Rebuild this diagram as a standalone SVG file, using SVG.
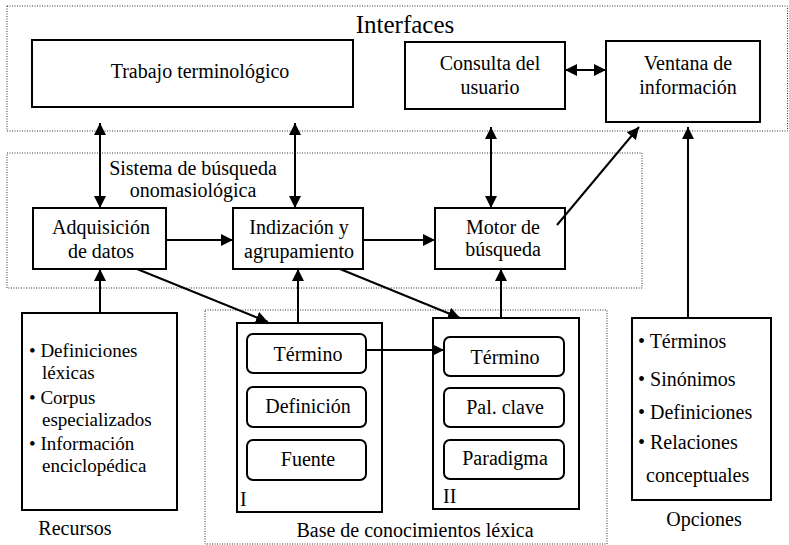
<svg xmlns="http://www.w3.org/2000/svg" width="789" height="545" viewBox="0 0 789 545">
<defs>
<style>
.frame{fill:none;stroke:#333;stroke-width:1;stroke-dasharray:1 1.5}
.box{fill:#fff;stroke:#000;stroke-width:2}
.rbox{fill:#fff;stroke:#000;stroke-width:2}
.t{font-family:"Liberation Serif","Times New Roman",serif;font-size:20px;fill:#000}
.s{font-size:19px}
.c{text-anchor:middle}
.title{font-size:25px}
.conn line{stroke:#000;stroke-width:2;fill:none}
.a{marker-end:url(#ah)}
.aa{marker-start:url(#ah);marker-end:url(#ah)}
</style>
<marker id="ah" markerUnits="userSpaceOnUse" markerWidth="12" markerHeight="12" refX="12" refY="6" orient="auto-start-reverse" viewBox="0 0 12 12">
<path d="M0,0 L12,6 L0,12 z" fill="#000"/>
</marker>
</defs>
<rect width="789" height="545" fill="#fff"/>

<g id="frame-interfaces">
<rect class="frame" x="7" y="6" width="780.5" height="125"/>
<text class="t c title" x="405" y="33">Interfaces</text>
</g>
<g id="frame-sistema">
<rect class="frame" x="7" y="153" width="635" height="135"/>
<text class="t c" x="193" y="175">Sistema de búsqueda<tspan x="193" y="197">onomasiológica</tspan></text>
</g>
<g id="frame-base">
<rect class="frame" x="205" y="310" width="402" height="234"/>
<text class="t c" x="415" y="537">Base de conocimientos léxica</text>
</g>

<g id="trabajo">
<rect class="box" x="32" y="40" width="321" height="67"/>
<text class="t c" x="200" y="78">Trabajo terminológico</text>
</g>
<g id="consulta">
<rect class="box" x="405" y="42" width="160" height="67"/>
<text class="t c" x="490" y="70">Consulta del<tspan x="490" y="94">usuario</tspan></text>
</g>
<g id="ventana">
<rect class="box" x="606" y="41" width="154" height="81"/>
<text class="t c" x="688" y="70">Ventana de<tspan x="688" y="94">información</tspan></text>
</g>
<g id="adquisicion">
<rect class="box" x="33" y="208" width="133" height="61"/>
<text class="t c" x="101" y="234">Adquisición<tspan x="101" y="258">de datos</tspan></text>
</g>
<g id="indizacion">
<rect class="box" x="233" y="208" width="130" height="61"/>
<text class="t c" x="299" y="234">Indización y<tspan x="299" y="258">agrupamiento</tspan></text>
</g>
<g id="motor">
<rect class="box" x="435" y="208" width="130" height="61"/>
<text class="t c" x="503" y="234">Motor de<tspan x="503" y="256">búsqueda</tspan></text>
</g>
<g id="recursos">
<rect class="box" x="22" y="313" width="155" height="197"/>
<text class="t s" x="29" y="357">• Definiciones<tspan x="42" y="379">léxicas</tspan></text>
<text class="t s" x="29" y="404">• Corpus<tspan x="42" y="426">especializados</tspan></text>
<text class="t s" x="29" y="450">• Información<tspan x="42" y="472">enciclopédica</tspan></text>
<text class="t c" x="75" y="535">Recursos</text>
</g>
<g id="base-i">
<rect class="box" x="237" y="323" width="145" height="189"/>
<text class="t" x="240" y="506">I</text>
</g>
<g id="termino-i">
<rect class="rbox" x="247" y="334" width="119" height="39" rx="6"/>
<text class="t c" x="308" y="361">Término</text>
</g>
<g id="definicion-i">
<rect class="rbox" x="247" y="387" width="119" height="40" rx="6"/>
<text class="t c" x="308" y="413">Definición</text>
</g>
<g id="fuente-i">
<rect class="rbox" x="247" y="440" width="119" height="40" rx="6"/>
<text class="t c" x="308" y="466">Fuente</text>
</g>
<g id="base-ii">
<rect class="box" x="433" y="318" width="146" height="191"/>
<text class="t" x="443" y="503">II</text>
</g>
<g id="termino-ii">
<rect class="rbox" x="444" y="337" width="120" height="39" rx="6"/>
<text class="t c" x="505" y="364">Término</text>
</g>
<g id="palclave-ii">
<rect class="rbox" x="444" y="388" width="120" height="39" rx="6"/>
<text class="t c" x="505" y="414">Pal. clave</text>
</g>
<g id="paradigma-ii">
<rect class="rbox" x="444" y="440" width="120" height="39" rx="6"/>
<text class="t c" x="505" y="465">Paradigma</text>
</g>
<g id="opciones">
<rect class="box" x="632" y="318" width="139" height="182"/>
<text class="t" x="638" y="348">• Términos</text>
<text class="t" x="638" y="386">• Sinónimos</text>
<text class="t" x="638" y="419">• Definiciones</text>
<text class="t" x="638" y="449">• Relaciones<tspan x="646" y="482">conceptuales</tspan></text>
<text class="t c" x="704" y="526">Opciones</text>
</g>

<g id="connectors" class="conn">
<line class="aa" x1="100" y1="123" x2="100" y2="208"/>
<line class="aa" x1="295" y1="123" x2="295" y2="208"/>
<line class="aa" x1="491" y1="127" x2="491" y2="208"/>
<line class="aa" x1="565" y1="70" x2="606" y2="70"/>
<line class="a" x1="166" y1="240" x2="233" y2="240"/>
<line class="a" x1="363" y1="240" x2="435" y2="240"/>
<line class="a" x1="557" y1="225" x2="639" y2="127"/>
<line class="a" x1="688" y1="318" x2="688" y2="127"/>
<line class="a" x1="100" y1="313" x2="100" y2="269"/>
<line class="a" x1="137" y1="269" x2="268" y2="322"/>
<line class="a" x1="340" y1="269" x2="460" y2="318"/>
<line class="a" x1="298" y1="323" x2="298" y2="269"/>
<line class="a" x1="501" y1="318" x2="501" y2="269"/>
<line class="a" x1="366" y1="350" x2="444" y2="350"/>
</g>
</svg>
